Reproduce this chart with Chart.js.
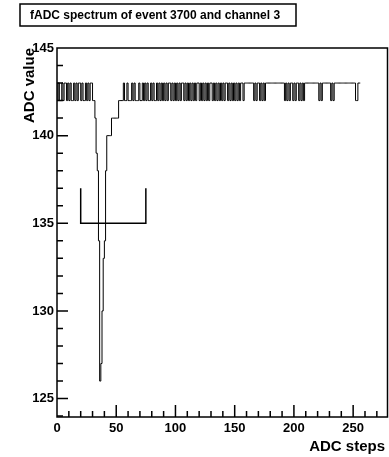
<!DOCTYPE html>
<html>
<head>
<meta charset="utf-8">
<script src="https://cdn.jsdelivr.net/npm/chart.js@4.4.1/dist/chart.umd.min.js"></script>
<style>
  html, body { margin: 0; padding: 0; background: #fff; }
  #wrap { width: 389px; height: 457px; }
</style>
</head>
<body>
<div id="wrap"><canvas id="adcChart" width="389" height="457"></canvas></div>
<script>
// --- 그림에서 읽은 값 (bin 0..255) ---
const adcValues = [
  143,142,143,142,142,143,142,143,143,142,
  143,142,143,142,142,143,142,143,142,143,
  143,142,143,142,142,143,142,143,142,143,
  143,142,142,141,139,138,134,126,127,130,
  133,134,138,140,140,140,140,141,141,141,
  141,141,141,142,142,142,142,143,142,142,
  143,142,142,142,143,142,143,142,142,142,
  143,142,142,143,142,143,142,143,142,142,
  143,142,143,142,142,143,142,143,142,143,
  142,143,142,143,142,143,143,142,143,142,
  143,142,143,142,143,142,143,143,142,143,
  142,143,142,143,142,143,142,143,142,143,
  143,142,143,142,143,142,143,142,143,142,
  143,143,142,143,142,143,142,143,142,143,
  142,143,142,143,143,142,143,142,143,142,
  143,142,143,142,143,142,143,143,142,143,
  143,143,143,143,143,143,143,142,143,142,
  143,143,142,143,142,143,142,143,143,143,
  143,143,143,143,143,143,143,143,143,143,
  143,143,143,142,143,142,143,142,143,143,
  142,143,142,143,143,142,143,142,143,142,
  143,143,143,143,143,143,143,143,143,143,
  143,143,142,143,142,143,143,143,143,143,
  143,143,142,143,142,143,143,143,143,143,
  143,143,143,143,143,143,143,143,143,143,
  143,143,143,142,142,143
];
const bracketX = [20, 20, 75, 75];
const bracketY = [137, 135, 135, 137];
const xTickLabels = [0, 50, 100, 150, 200, 250];
const yTickLabels = [125, 130, 135, 140, 145];
const titleText = "fADC spectrum of event 3700 and channel 3";
const xTitle = "ADC steps";
const yTitle = "ADC value";

// 히스토그램: bin 하한마다 한 점 + 마지막 경계
const histPoints = adcValues.map((v, i) => ({ x: i, y: v }));
histPoints.push({ x: adcValues.length, y: adcValues[adcValues.length - 1] });
const bracketPoints = bracketX.map((x, i) => ({ x: x, y: bracketY[i] }));

const FONT = '"Liberation Sans", Arial, sans-serif';
Chart.defaults.font.family = FONT;
Chart.defaults.color = "#000";

// --- ROOT 스타일 프레임, 안쪽 눈금, 제목 ---
const rootFrame = {
  id: "rootFrame",
  afterDraw(chart) {
    const { ctx, chartArea: a } = chart;
    const x = chart.scales.x, y = chart.scales.y;
    ctx.save();
    ctx.strokeStyle = "#000";
    ctx.lineWidth = 1.5;
    ctx.strokeRect(a.left, a.top, a.right - a.left, a.bottom - a.top);

    ctx.beginPath();
    for (let v = 10; v < x.max; v += 10) {
      const px = x.getPixelForValue(v);
      const len = v % 50 === 0 ? 12 : 6;
      ctx.moveTo(px, a.bottom);
      ctx.lineTo(px, a.bottom - len);
    }
    for (let v = 124; v < 145; v++) {
      const py = y.getPixelForValue(v);
      const len = v % 5 === 0 ? 11 : 6;
      ctx.moveTo(a.left, py);
      ctx.lineTo(a.left + len, py);
    }
    ctx.stroke();

    // 제목 상자
    ctx.lineWidth = 1.5;
    ctx.fillStyle = "#fff";
    ctx.fillRect(20, 4, 276, 22);
    ctx.strokeRect(20, 4, 276, 22);
    ctx.fillStyle = "#000";
    ctx.font = "bold 12px " + FONT;
    ctx.textAlign = "left";
    ctx.textBaseline = "middle";
    ctx.fillText(titleText, 30, 15.5);

    // 축 제목
    ctx.font = "bold 15px " + FONT;
    ctx.textAlign = "right";
    ctx.fillText(xTitle, 385, 447);

    ctx.translate(30, a.top);
    ctx.rotate(-Math.PI / 2);
    ctx.textAlign = "right";
    ctx.fillText(yTitle, 0, 0);
    ctx.restore();
  },
};

new Chart(document.getElementById("adcChart"), {
  type: "line",
  data: {
    datasets: [
      {
        data: histPoints,
        borderColor: "#000",
        borderWidth: 1,
        stepped: "after",
        pointRadius: 0,
        fill: false,
      },
      {
        data: bracketPoints,
        borderColor: "#000",
        borderWidth: 1.5,
        pointRadius: 0,
        fill: false,
      },
    ],
  },
  options: {
    responsive: false,
    animation: false,
    events: [],
    layout: { padding: { top: 48, right: 1.5, left: 0, bottom: 0 } },
    plugins: { legend: { display: false }, tooltip: { enabled: false } },
    scales: {
      x: {
        type: "linear",
        min: 0,
        max: 279,
        grid: { display: false, drawTicks: false },
        border: { display: false },
        afterBuildTicks: (s) => { s.ticks = xTickLabels.map((v) => ({ value: v })); },
        afterFit: (s) => { s.height = 40; },
        ticks: { padding: 4, maxRotation: 0, font: { size: 13, weight: "bold" } },
      },
      y: {
        type: "linear",
        min: 123.95,
        max: 145,
        grid: { display: false, drawTicks: false },
        border: { display: false },
        afterBuildTicks: (s) => { s.ticks = yTickLabels.map((v) => ({ value: v })); },
        afterFit: (s) => { s.width = 57; },
        ticks: { padding: 3, font: { size: 13, weight: "bold" } },
      },
    },
  },
  plugins: [rootFrame],
});
</script>
</body>
</html>
